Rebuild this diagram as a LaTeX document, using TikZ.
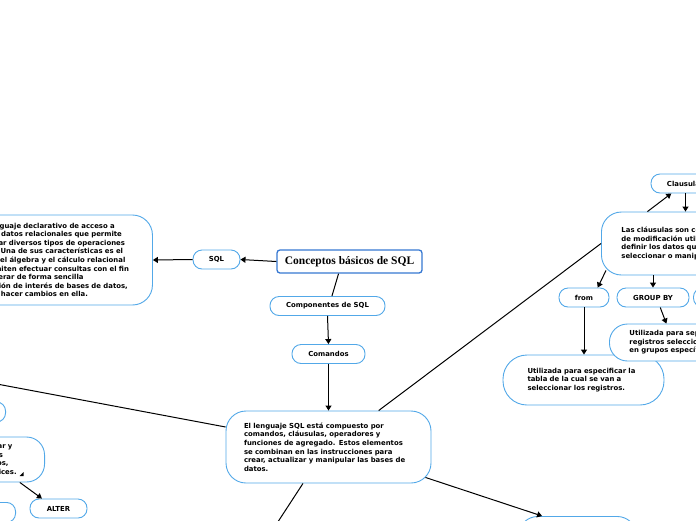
\documentclass[tikz,border=0pt]{standalone}
\usepackage{fontspec}
\setsansfont{DejaVu Sans}
\newfontfamily\titleFont{Liberation Serif}
\usetikzlibrary{arrows.meta, positioning, calc}
\definecolor{cPillDraw}{RGB}{82, 168, 232}
\definecolor{cTitleDraw}{RGB}{54, 120, 210}
\newcommand{\mapFont}{\fontsize{6.9pt}{8.6pt}\selectfont\bfseries}
\tikzset{
    font=\sffamily,
    pill/.style={
        rectangle, draw=cPillDraw, line width=0.9pt, rounded corners=9pt,
        fill=white, font=\sffamily\mapFont,
        minimum height=19pt, inner sep=0pt
    },
    topicBox/.style={
        rectangle, draw=cPillDraw, line width=0.9pt, rounded corners=20pt,
        fill=white, font=\sffamily\mapFont, align=left,
        inner ysep=0pt
    },
    titleBox/.style={
        rectangle, draw=cTitleDraw, line width=1.3pt, rounded corners=3pt,
        fill=white, font=\titleFont\bfseries\fontsize{11.5pt}{13pt}\selectfont,
        minimum width=145pt, minimum height=23pt, inner sep=0pt
    },
    link/.style={draw=black, line width=1pt},
    linkArrow/.style={link, -{Triangle[length=5pt, width=6pt]}}
}

\begin{document}
\begin{tikzpicture}[x=1pt, y=-1pt]
    \useasboundingbox (0,0) rectangle (696,520);
    \clip (0,0) rectangle (696,520);

    % centre
    \node [titleBox] (title) at (349.5,261.5) {Conceptos básicos de SQL};
    \node [pill, minimum width=47pt] (sql) at (216.5,259.5) {SQL};
    \node [topicBox, anchor=west, text width=170pt, inner xsep=18pt, minimum height=90pt] (sqlDef) at (-54,260) {
        Es un lenguaje declarativo de acceso a\\
        bases de datos relacionales que permite\\
        especificar diversos tipos de operaciones\\
        en ellas. Una de sus características es el\\
        manejo del álgebra y el cálculo relacional\\
        que permiten efectuar consultas con el fin\\
        de recuperar de forma sencilla\\
        información de interés de bases de datos,\\
        así como hacer cambios en ella.
    };
    \node [pill, minimum width=115pt] (comp) at (327.5,306) {Componentes de SQL};
    \node [pill, minimum width=73pt] (coman) at (328.5,354) {Comandos};
    \node [topicBox, text width=169pt, inner xsep=18pt, minimum height=72pt] (lenguaje) at (328.5,447) {
        El lenguaje SQL está compuesto por\\
        comandos, cláusulas, operadores y\\
        funciones de agregado. Estos elementos\\
        se combinan en las instrucciones para\\
        crear, actualizar y manipular las bases de\\
        datos.
    };

    % clausulas
    \node [pill, minimum width=69pt] (clausulas) at (685.5,183.5) {Clausulas};
    \node [topicBox, anchor=west, text width=140pt, inner xsep=20pt, minimum height=63pt] (clau) at (601,243.5) {
        Las cláusulas son condiciones\\
        de modificación utilizadas para\\
        definir los datos que desea\\
        seleccionar o manipular.
    };
    \node [pill, minimum width=50pt] (from) at (584,297.5) {from};
    \node [pill, minimum width=72pt] (group) at (653,297.5) {GROUP BY};
    \node [pill, anchor=west, minimum width=60pt] (nextClause) at (693,297.5) {};
    \node [topicBox, text width=112pt, inner xsep=24.5pt, minimum height=50pt, rounded corners=24pt] (fromDef) at (583.5,380) {
        Utilizada para especificar la\\
        tabla de la cual se van a\\
        seleccionar los registros.
    };
    \node [topicBox, anchor=west, text width=130pt, inner xsep=20pt, minimum height=37pt, rounded corners=18pt] (groupDef) at (609,342.5) {
        Utilizada para separar los\\
        registros seleccionados\\
        en grupos específicos.
    };

    % comandos
    \node [pill, anchor=east, minimum width=60pt, minimum height=20pt] (ddl) at (6,412) {};
    \node [topicBox, anchor=east, text width=79pt, inner xsep=18pt, minimum height=45pt, rounded corners=18pt] (ddlDef) at (45,459.5) {
        Permiten crear y\\
        definir nuevas\\
        bases de datos,\\
        campos e índices.
    };
    \fill (19.5,476) -- (23.5,476) -- (23.5,472) -- cycle;
    \node [pill, minimum width=57pt] (alter) at (58.5,508.5) {ALTER};
    \node [pill, anchor=north east, minimum width=60pt, minimum height=20pt] (drop) at (16,502) {};
    \node [topicBox, anchor=north, minimum width=119pt, minimum height=40pt] (opers) at (577.5,516) {};

    \coordinate (offLeft) at (-200,347);
    \coordinate (offBottom) at (255,557);

    \draw [linkArrow] (title.west) -- (sql.east);
    \draw [linkArrow] (sql.west) -- (sqlDef.east);
    \draw [link] (title.228) -- (comp.66);
    \draw [linkArrow] (comp.south) -- (coman.north);
    \draw [linkArrow] (coman.south) -- (lenguaje.north);
    \draw [link] (lenguaje.36) -- (clau.west);
    \draw [link] (lenguaje.169.5) -- (offLeft);
    \draw [link] (lenguaje.235) -- (offBottom);
    \draw [linkArrow] ($(lenguaje.south east)+(-6,-6)$) -- (opers.150);

    \draw [linkArrow] (clau.144) -- (clausulas.215);
    \draw [linkArrow] (clausulas.south) -- (clausulas.south |- clau.north);
    \draw [linkArrow] ($(clau.south west)+(5,-5)$) -- (from.36);
    \draw [linkArrow] (group.north |- clau.south) -- (group.north);
    \draw [linkArrow] (from.south) -- (from.south |- fromDef.north);
    \draw [linkArrow] (group.-54) -- (groupDef.146);

    \draw [linkArrow] (ddlDef.325) -- (alter.149);
\end{tikzpicture}
\end{document}
